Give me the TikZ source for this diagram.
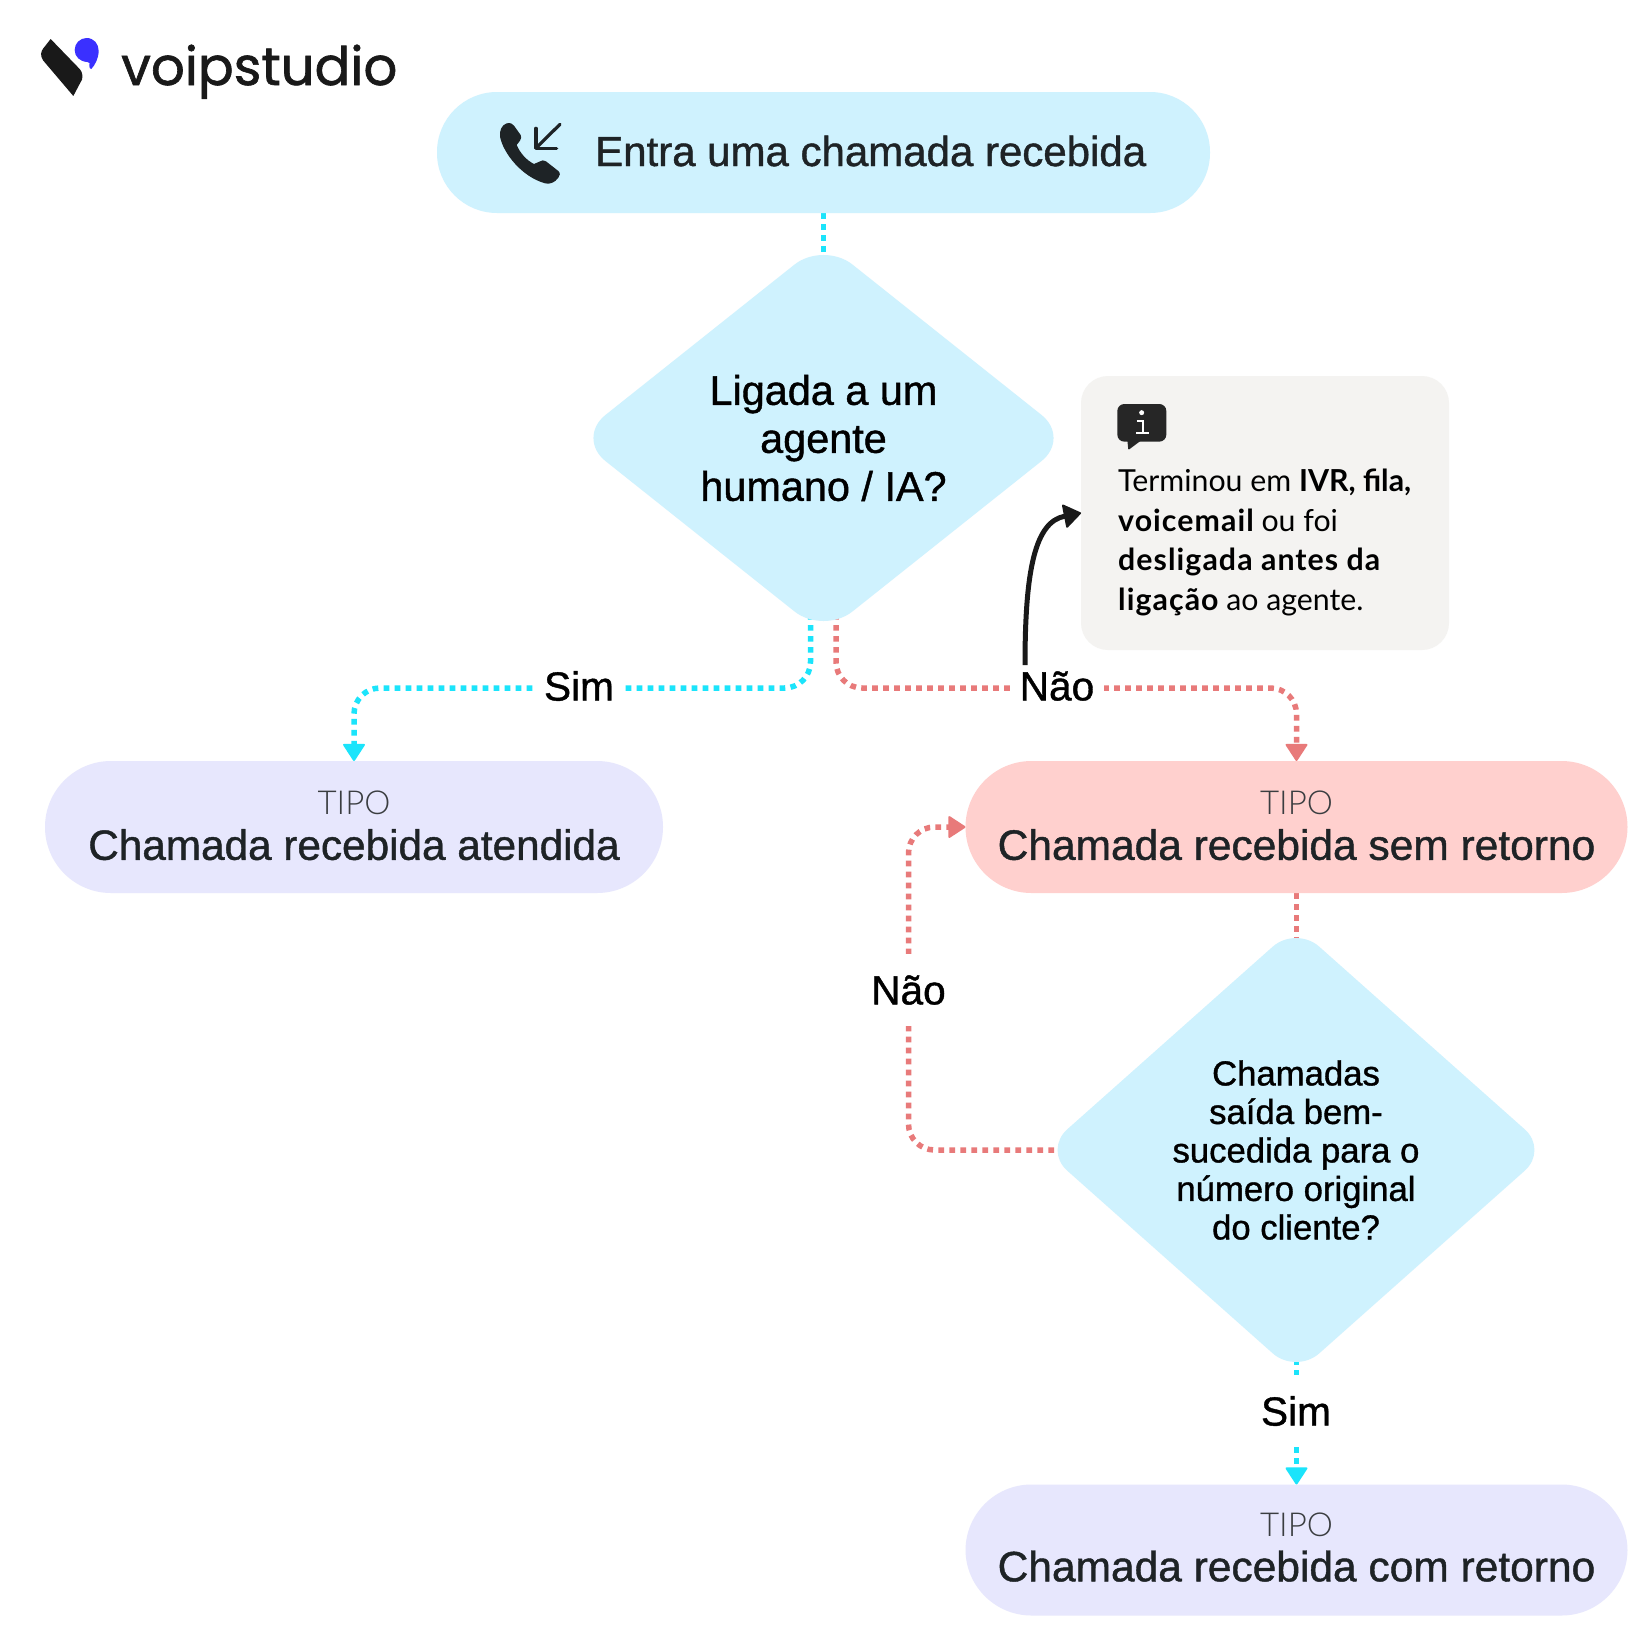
\documentclass[tikz,border=0pt]{standalone}
\usepackage{fontspec}
\usetikzlibrary{shapes.geometric,arrows.meta,backgrounds,calc}
\setmainfont{Liberation Sans}
\newfontfamily\medf[FakeBold=1.0]{Liberation Sans}
\newfontfamily\lightf{Lato Light}
\newfontfamily\logof[FakeBold=1.2]{Poppins}
\newfontfamily\notef{Lato}
\newcommand{\fs}[2]{\fontsize{#1}{#2}\selectfont}
\newcommand{\nb}[1]{{\bfseries\addfontfeature{LetterSpace=3.5}#1}}
\definecolor{ink}{HTML}{1E2326}
\definecolor{sky}{HTML}{CFF2FE}
\definecolor{lav}{HTML}{E7E7FD}
\definecolor{pinkf}{HTML}{FFD0CE}
\definecolor{noteg}{HTML}{F4F3F1}
\definecolor{cyanl}{HTML}{1BE4FB}
\definecolor{redl}{HTML}{E87A7A}
\definecolor{tipog}{HTML}{3A3D40}
\definecolor{logob}{HTML}{3A30FF}
\tikzset{
  x=1pt,y=-1pt,
  pillbox/.style={rectangle,inner sep=0pt,outer sep=0pt,align=center,text=ink,font=\medf\fs{42.5}{45}},
  diabox/.style={diamond,fill=sky,inner sep=0pt,outer sep=0pt,align=center,text=black},
  lbl/.style={fill=white,inner xsep=10pt,inner ysep=0pt,minimum height=72pt,text=black,font=\medf\fs{40.6}{48}},
  dotline/.style={line width=5.5pt,dash pattern=on 5.7pt off 5.3pt,rounded corners=26pt},
  tipc/.style={-{Triangle[length=18pt,width=23pt,line width=2pt,round]}}
}
\newcommand{\tipotxt}{{\lightf\fs{33}{45}\color{tipog}TIPO}}
\begin{document}
\begin{tikzpicture}
\useasboundingbox (0,0) rectangle (1650,1650);

% logo
\begin{scope}[shift={(30,30)},x=0.3333pt,y=-0.3333pt]
\fill[black!90] (62,27) -- (150,118) .. controls (158,128) and (162,145) .. (150,160) -- (130,198) -- (40,92) .. controls (30,78) and (32,65) .. (40,55) -- cycle;
\fill[logob] (170,24) .. controls (192,24) and (206,42) .. (206,62) .. controls (206,85) and (195,105) .. (184,117) .. controls (180,118) and (177,112) .. (178,106) .. controls (180,100) and (180,97) .. (172,96) .. controls (150,95) and (134,80) .. (134,60) .. controls (134,40) and (150,24) .. (170,24) -- cycle;
\end{scope}
\node[anchor=base west,inner sep=0pt,text=black!90,font=\logof\fs{53}{53}] (logo) at (121,85) {voipstudio};

% main nodes
\node[pillbox,fill=sky,rounded corners=60pt,minimum width=773pt,minimum height=121pt] (start) at (823.5,152.5) {};
\node[anchor=west,inner sep=0pt,text=ink,font=\medf\fs{42}{48}] (starttxt) at (595,151) {Entra uma chamada recebida};

\node[diabox,rounded corners=37pt,minimum width=494pt,minimum height=393pt,shape aspect=1.25,font=\medf\fs{41.4}{48}] (d1) at (823.5,438) {Ligada a um\\agente\\humano / IA?};

\node[pillbox,fill=noteg,rounded corners=27pt,minimum width=368pt,minimum height=274pt] (note) at (1265,513) {};
\node[anchor=north west,inner sep=0pt,align=left,text=black,font=\notef\fs{30.3}{39.5}] (notetxt) at (1118,469) {Terminou em \textbf{IVR, fila,}\\\nb{voicemail} ou foi\\\nb{desligada antes da}\\\nb{ligação} ao agente.};

\node[pillbox,fill=lav,rounded corners=66pt,minimum width=618pt,minimum height=132pt] (att) at (354,827) {\tipotxt\\{\fs{42.3}{45}Chamada recebida atendida}\rule[-3pt]{0pt}{1pt}};
\node[pillbox,fill=pinkf,rounded corners=66pt,minimum width=662pt,minimum height=132pt] (sem) at (1296.5,827) {\tipotxt\\Chamada recebida sem retorno\rule[-3pt]{0pt}{1pt}};
\node[diabox,rounded corners=31pt,minimum width=504pt,minimum height=448pt,shape aspect=1.12,font=\medf\fs{34.7}{38.5}] (d2) at (1296,1150) {Chamadas\\saída bem-\\sucedida para o\\número original\\do cliente?};
\node[pillbox,fill=lav,rounded corners=66pt,minimum width=662pt,minimum height=131pt] (com) at (1296.5,1550) {\tipotxt\\Chamada recebida com retorno\rule[-6pt]{0pt}{1pt}};

% labels
\node[lbl] (sim1) at (579,686) {Sim};
\node[lbl] (nao1) at (1057,686) {Não};
\node[lbl] (nao2) at (908.5,990) {Não};
\node[lbl] (sim2) at (1296,1411) {Sim};

% connectors
\begin{scope}[on background layer]
\fill[white] (0,0) rectangle (1650,1650);
\coordinate (d1l) at ($(d1.center)+(-13,0)$);
\coordinate (d1r) at ($(d1.center)+(12.5,0)$);
\coordinate (g1) at (0,688);
\draw[dotline,cyanl] (start.south) -- (d1.center);
\draw[dotline,cyanl,tipc] (d1l) -- (d1l |- g1) -- (att.north |- g1) -- (att.north);
\draw[dotline,redl,tipc] (d1r) -- (d1r |- g1) -- (sem.north |- g1) -- (sem.north);
\draw[dotline,redl] (sem.south) -- (d2.center -| sem.south);
\draw[dotline,redl,tipc] (d2.center) -- (nao2 |- d2.center) -- (nao2 |- sem.west) -- (sem.west);
\draw[dotline,cyanl,tipc] (d2.center -| com.north) -- (com.north);
\end{scope}

% black arrow
\coordinate (nstart) at (1025,665);
\draw[line width=5pt,black!90,-{Triangle[length=18pt,width=25pt,line width=2pt,round]}] (nstart) .. controls (1025,570) and (1035,522) .. (note.west);

% phone icon
\begin{scope}[shift={(490,110)},x=0.3333pt,y=-0.3333pt]
\fill[ink] (50,40) .. controls (60,38) and (68,40) .. (72,47) -- (92,75) .. controls (95,80) and (94,86) .. (90,92) -- (80,105) .. controls (90,128) and (108,150) .. (132,162) -- (148,155) .. controls (155,150) and (162,150) .. (168,154) -- (205,183) .. controls (212,190) and (210,197) .. (205,203) .. controls (195,218) and (178,224) .. (165,220) .. controls (95,200) and (40,130) .. (30,80) .. controls (28,62) and (35,45) .. (50,40) -- cycle;
\draw[ink,line width=3.2pt,line cap=round,line join=round] (210,43) -- (140,112);
\draw[ink,line width=3.2pt,line cap=round,line join=round] (138,55) -- (138,115) -- (200,115);
\end{scope}

% info icon
\begin{scope}[shift={(1050,360)},x=0.3333pt,y=-0.3333pt]
\fill[black!85,rounded corners=7pt] (202,132) rectangle (349,245);
\fill[black!85,rounded corners=1pt] (232,240) -- (235,270) -- (275,240) -- cycle;
\fill[white] (275,158) circle (2.5pt);
\draw[white,line width=2pt] (260,182) -- (278,182) -- (278,219);
\draw[white,line width=2pt] (259,219) -- (297,219);
\end{scope}
\end{tikzpicture}
\end{document}
